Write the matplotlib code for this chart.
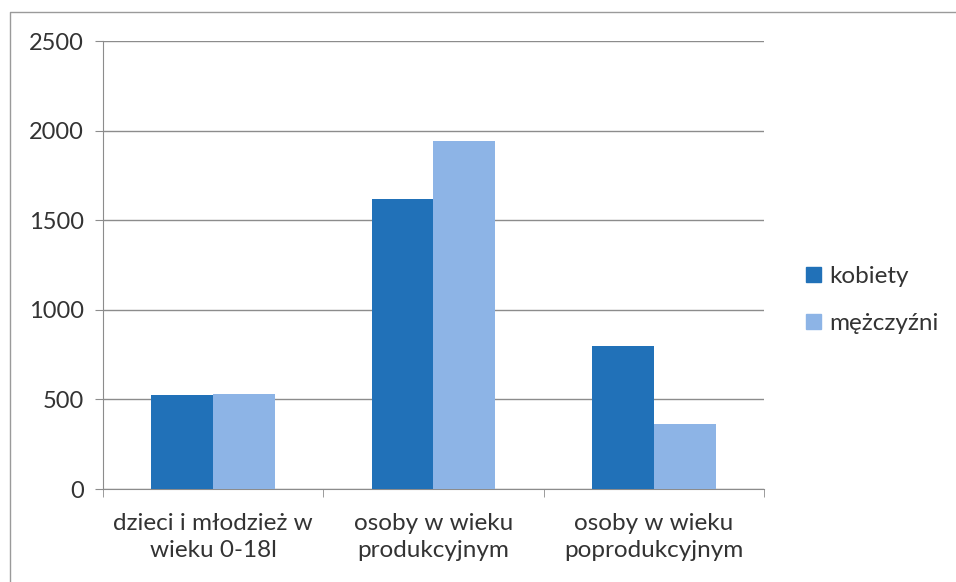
import numpy as np
import matplotlib.pyplot as plt
from matplotlib.patches import Patch
from matplotlib.lines import Line2D

plt.rcParams['font.family'] = ['Lato', 'DejaVu Sans']

categories = ['dzieci i młodzież w\nwieku 0-18l', 'osoby w wieku\nprodukcyjnym', 'osoby w wieku\npoprodukcyjnym']
series = ['kobiety', 'mężczyźni']
kobiety = [525, 1620, 800]
mezczyzni = [530, 1940, 365]
colors = ['#2171b8', '#8db4e6']

W, H = 956, 582
fig = plt.figure(figsize=(W / 100, H / 100), dpi=100)
ax = fig.add_axes([103 / W, 1 - 489 / H, (764 - 103) / W, (489 - 41) / H])

x = np.arange(len(categories))
width = 0.28
ax.bar(x - width / 2, kobiety, width, color=colors[0], zorder=3)
ax.bar(x + width / 2, mezczyzni, width, color=colors[1], zorder=3)

ax.set_xlim(-0.5, len(categories) - 0.5)
ax.set_ylim(0, 2500)
ax.set_yticks(range(0, 2501, 500))
ax.yaxis.grid(True, color='#8c8c8c', linewidth=1, zorder=0)

ax.set_xticks(x)
ax.set_xticklabels(categories, fontsize=17.5, color='#333333', linespacing=1.4)
ax.tick_params(axis='x', length=0, pad=17)
ax.set_xticks(np.arange(-0.5, len(categories)), minor=True)
ax.tick_params(axis='x', which='minor', length=6, color='#8c8c8c', direction='out')
ax.tick_params(axis='y', labelsize=17, labelcolor='#333333', length=6, color='#8c8c8c', pad=8)

for s in ['top', 'right']:
    ax.spines[s].set_visible(False)
for s in ['left', 'bottom']:
    ax.spines[s].set_color('#8c8c8c')

handles = [Patch(color=c) for c in colors]
fig.legend(handles, series, loc='upper left', bbox_to_anchor=(794 / W, 1 - 254 / H),
           frameon=False, fontsize=17.5, handlelength=0.6, handleheight=0.6,
           handletextpad=0.35, labelspacing=1.07, borderpad=0, labelcolor='#333333')

# outer chart frame (only left and top edges visible in the scan)
fig.add_artist(Line2D([10 / W, 10 / W, 1], [0, 1 - 12 / H, 1 - 12 / H],
                      transform=fig.transFigure, color='#9a9a9a', linewidth=1))

fig.savefig('out.png', dpi=100)
